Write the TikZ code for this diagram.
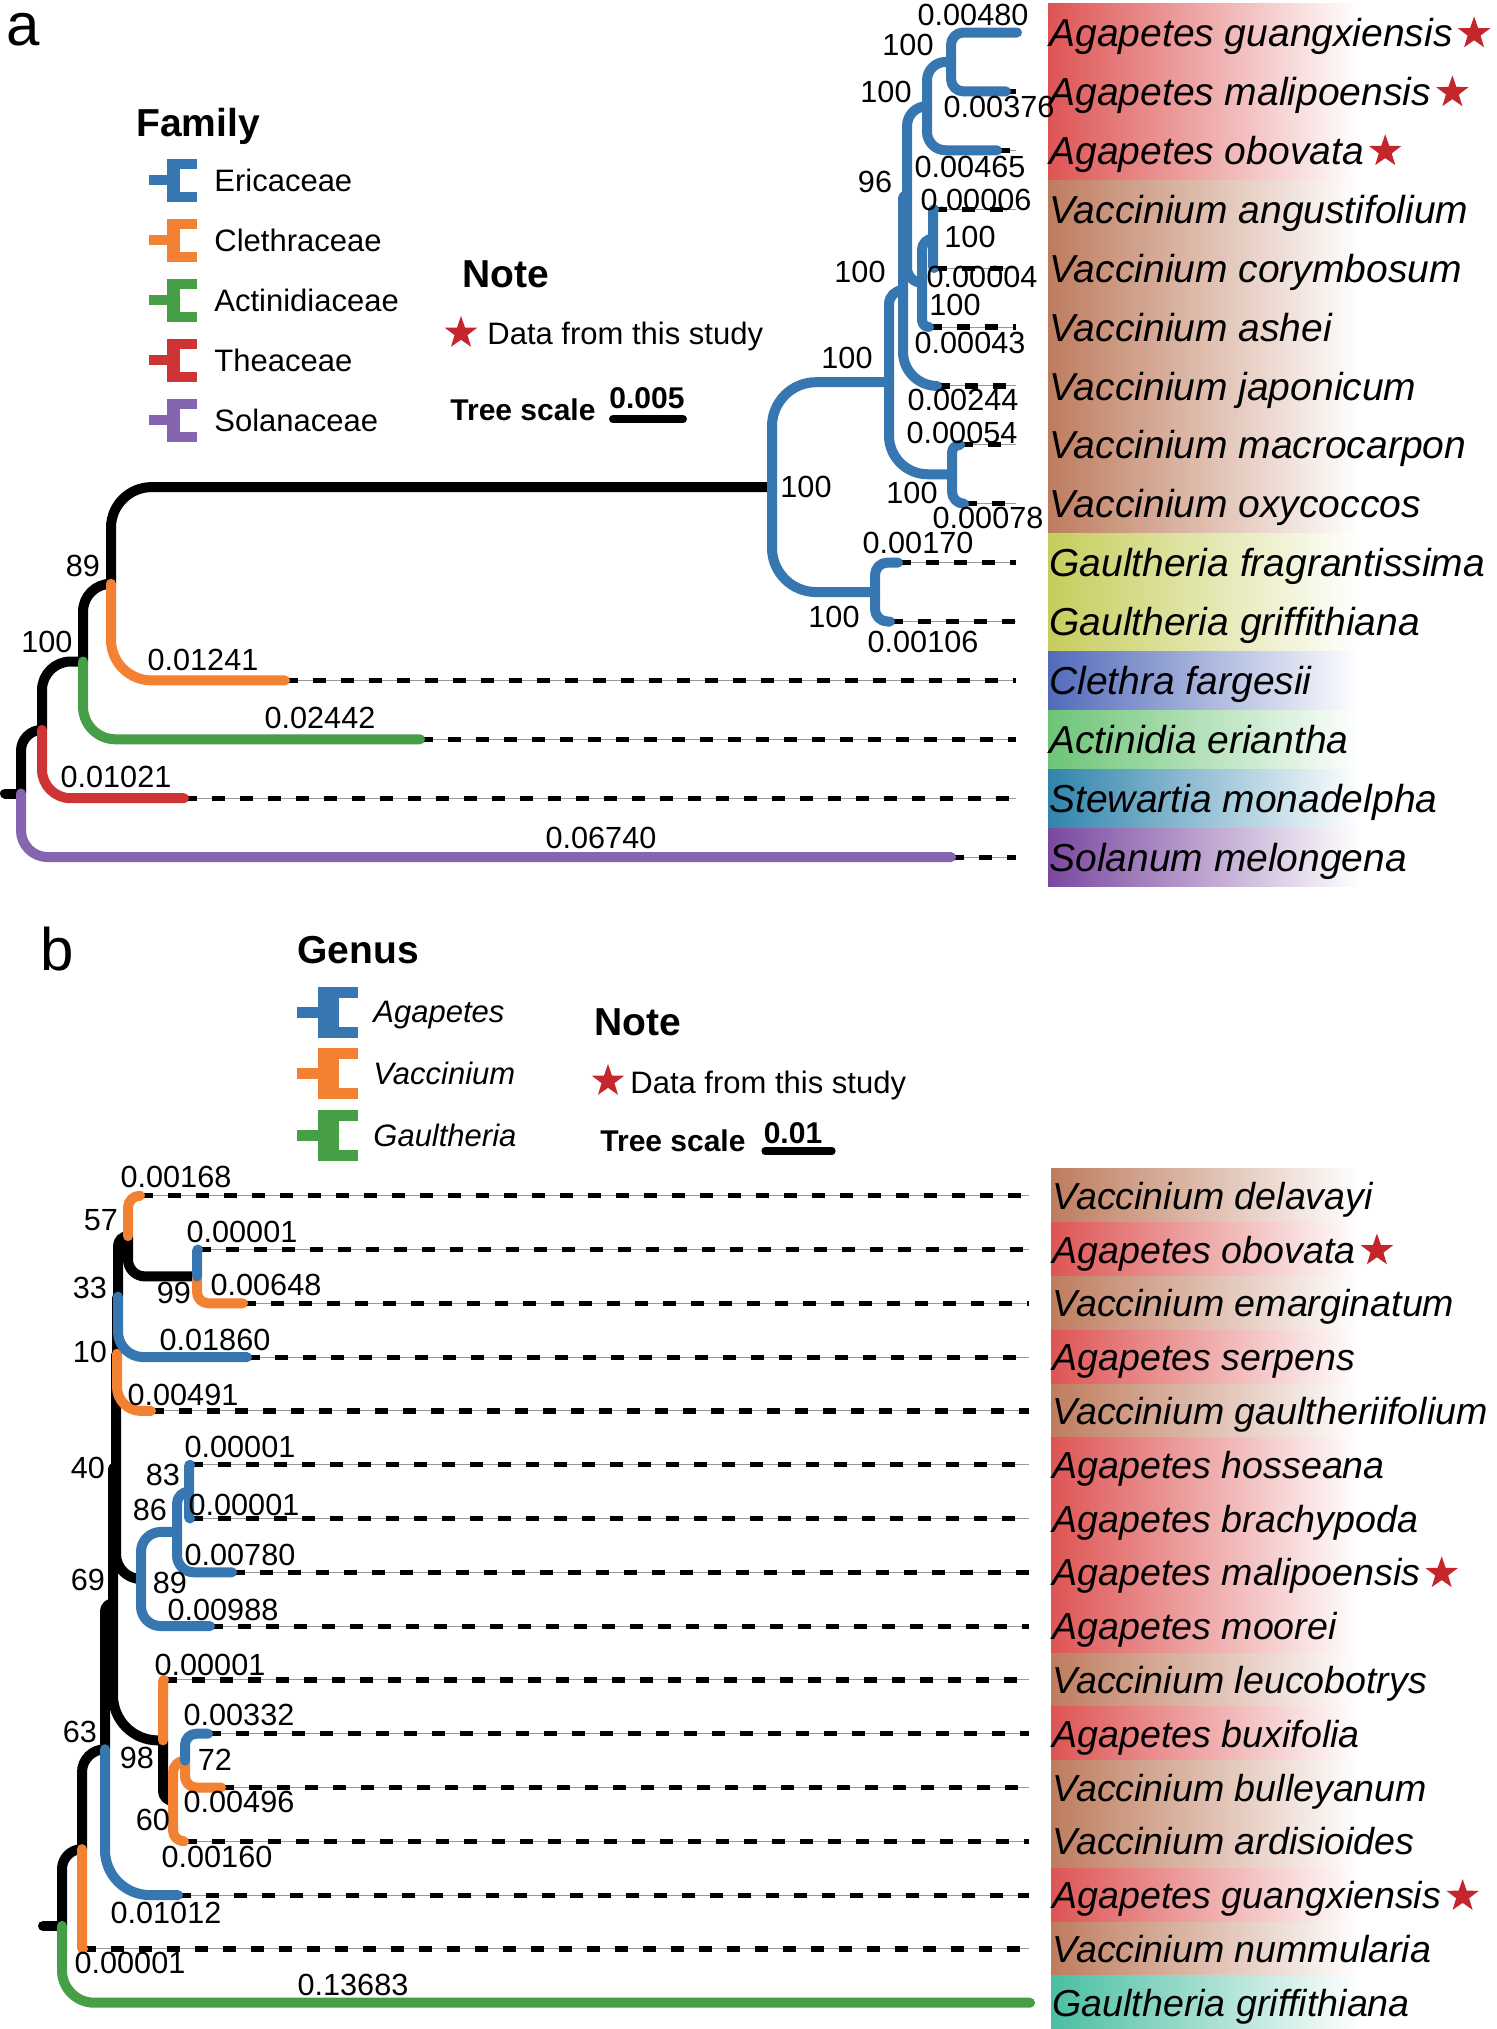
\documentclass[tikz,border=0pt]{standalone}
\usepackage{fontspec}
\setmainfont{Liberation Sans}
\usetikzlibrary{shapes.geometric}
\definecolor{cBlue}{RGB}{54,119,178}
\definecolor{cOrange}{RGB}{243,129,50}
\definecolor{cGreen}{RGB}{70,158,70}
\definecolor{cRed}{RGB}{206,52,54}
\definecolor{cPurple}{RGB}{133,101,176}
\definecolor{cStar}{RGB}{196,38,44}
\definecolor{bAga}{RGB}{222,84,84}
\definecolor{bVac}{RGB}{190,124,94}
\definecolor{bGau}{RGB}{198,205,92}
\definecolor{bCle}{RGB}{82,106,186}
\definecolor{bAct}{RGB}{108,196,118}
\definecolor{bSte}{RGB}{48,132,172}
\definecolor{bSol}{RGB}{122,72,160}
\definecolor{bTeal}{RGB}{74,190,162}
\newdimen\brdx \newdimen\brdy
\newcommand\branch[3]{%
 \pgfextractx{\brdx}{\pgfpointdiff{\pgfpointanchor{#2}{center}}{\pgfpointanchor{#3}{center}}}%
 \pgfextracty{\brdy}{\pgfpointdiff{\pgfpointanchor{#2}{center}}{\pgfpointanchor{#3}{center}}}%
 \pgfmathsetmacro\brr{max(0.05,min(abs(\brdx),0.42*abs(\brdy),22.5))}%
 \draw[tbr,#1,rounded corners=\brr pt] (#2) |- (#3);}
\newcommand\bandA[4]{\shade[left color=#1,right color=white] (#2,#3) rectangle (1360,#4);}
\newcommand\iconA[3]{\begin{scope}[shift={(#2,#3)}]
 \fill[#1] (0,-5) rectangle (19,5);
 \fill[#1] (18,-21.5) rectangle (31,21.5);
 \fill[#1] (18,-21.5) rectangle (48,-11.5);
 \fill[#1] (18,11.5) rectangle (48,21.5);
 \end{scope}}
\newcommand\iconB[3]{\begin{scope}[shift={(#2,#3)}]
 \fill[#1] (0,-5.5) rectangle (22,5.5);
 \fill[#1] (21,-25.5) rectangle (42,25.5);
 \fill[#1] (21,-25.5) rectangle (61,-14.5);
 \fill[#1] (21,14.5) rectangle (61,25.5);
 \end{scope}}
\tikzset{
 tbr/.style={line width=5pt,line cap=round,line join=round},
 grayl/.style={line width=0.5pt,gray!80},
 dsh/.style={line width=2.6pt,dash pattern=on 6.5pt off 7.5pt,black},
 txA/.style={anchor=west,inner sep=0pt,text depth=0pt,font=\fontsize{19.5}{22}\selectfont\itshape},
 txB/.style={anchor=west,inner sep=0pt,text depth=0pt,font=\fontsize{18.8}{22}\selectfont\itshape},
 numlab/.style={inner sep=0pt,text depth=0pt,font=\fontsize{15.3}{17}\selectfont},
 legtxt/.style={anchor=west,inner sep=0pt,text depth=0pt,font=\fontsize{15.5}{18}\selectfont},
 headtxt/.style={anchor=west,inner sep=0pt,text depth=0pt,font=\fontsize{19.5}{22}\selectfont\bfseries},
 boldtxt/.style={inner sep=0pt,text depth=0pt,font=\fontsize{15}{18}\selectfont\bfseries},
 pnl/.style={inner sep=0pt,text depth=0pt,font=\fontsize{30}{32}\selectfont},
 starN/.style={star,star points=5,star point ratio=2.5,fill=cStar,draw=none,minimum size=17pt,inner sep=0pt},
}
\begin{document}
\begin{tikzpicture}[x=0.5pt,y=-0.5pt]
\useasboundingbox (0,0) rectangle (1496,2029);
\fill[white] (0,0) rectangle (1496,2029);
% ---------------- panel a bands
\bandA{bAga}{1048}{3}{180}
\bandA{bVac}{1048}{180}{533}
\bandA{bGau}{1048}{533}{651}
\bandA{bCle}{1048}{651}{710}
\bandA{bAct}{1048}{710}{769}
\bandA{bSte}{1048}{769}{828}
\bandA{bSol}{1048}{828}{886}
% ---------------- panel b bands
\bandA{bVac}{1051}{1168.8}{1222.6}
\bandA{bAga}{1051}{1222.6}{1276.4}
\bandA{bVac}{1051}{1276.4}{1330.2}
\bandA{bAga}{1051}{1330.2}{1384.0}
\bandA{bVac}{1051}{1384.0}{1437.8}
\bandA{bAga}{1051}{1437.8}{1653.0}
\bandA{bVac}{1051}{1653.0}{1706.8}
\bandA{bAga}{1051}{1706.8}{1760.6}
\bandA{bVac}{1051}{1760.6}{1868.2}
\bandA{bAga}{1051}{1868.2}{1922.0}
\bandA{bVac}{1051}{1922.0}{1975.8}
\bandA{bTeal}{1051}{1975.8}{2029}
% ---------------- panel a coordinates
\coordinate (aEnd) at (1016,0);
\coordinate (aStub) at (5,793.5);
\coordinate (aR) at (21,793.5);
\coordinate (aN1) at (42,729.85);
\coordinate (aN2) at (83,661.5);
\coordinate (aN3) at (111,583.75);
\coordinate (aN4) at (772,487.1);
\coordinate (aN5) at (889,382.2);
\coordinate (aNG) at (875,592.05);
\coordinate (aNMO) at (952,474.25);
\coordinate (aN100) at (903,290.2);
\coordinate (aN96) at (907,194.5);
\coordinate (aNgmo) at (927,106.1);
\coordinate (aNgm) at (951,61.95);
\coordinate (aNaca) at (922,282.8);
\coordinate (aNac) at (933,238.65);
\coordinate (aT0) at (1017,32.5);
\coordinate (aT1) at (1006,91.4);
\coordinate (aT2) at (997,150.3);
\coordinate (aT3) at (934,209.2);
\coordinate (aT4) at (934,268.1);
\coordinate (aT5) at (929,327.0);
\coordinate (aT6) at (937,385.9);
\coordinate (aT7) at (960,444.8);
\coordinate (aT8) at (964,503.7);
\coordinate (aT9) at (898,562.6);
\coordinate (aT10) at (890,621.5);
\coordinate (aT11) at (285,680.4);
\coordinate (aT12) at (420,739.3);
\coordinate (aT13) at (184,798.2);
\coordinate (aT14) at (951,857.1);
% dashed guides panel a
\foreach \i in {1,...,14}{\draw[grayl] (aT\i) -- (aT\i -| aEnd);}
\foreach \i in {1,...,14}{\draw[dsh] (aT\i) -- (aT\i -| aEnd);}
% branches panel a
\draw[tbr] (aStub) -- (aR);
\branch{black}{aR}{aN1}
\branch{black}{aN1}{aN2}
\branch{black}{aN2}{aN3}
\branch{black}{aN3}{aN4}
\branch{cPurple}{aR}{aT14}
\branch{cRed}{aN1}{aT13}
\branch{cGreen}{aN2}{aT12}
\branch{cOrange}{aN3}{aT11}
\branch{cBlue}{aN4}{aN5}
\branch{cBlue}{aN4}{aNG}
\branch{cBlue}{aNG}{aT9}
\branch{cBlue}{aNG}{aT10}
\branch{cBlue}{aN5}{aN100}
\branch{cBlue}{aN5}{aNMO}
\branch{cBlue}{aNMO}{aT7}
\branch{cBlue}{aNMO}{aT8}
\branch{cBlue}{aN100}{aN96}
\branch{cBlue}{aN100}{aT6}
\branch{cBlue}{aN96}{aNgmo}
\branch{cBlue}{aN96}{aNaca}
\branch{cBlue}{aNgmo}{aNgm}
\branch{cBlue}{aNgmo}{aT2}
\branch{cBlue}{aNgm}{aT0}
\branch{cBlue}{aNgm}{aT1}
\branch{cBlue}{aNaca}{aNac}
\branch{cBlue}{aNaca}{aT5}
\branch{cBlue}{aNac}{aT3}
\branch{cBlue}{aNac}{aT4}
% labels panel a
\node[numlab] (aS1) at (908,45) {100};
\node[numlab] (aS2) at (886,92) {100};
\node[numlab] (aS3) at (875,182) {96};
\node[numlab] (aS4) at (970,237) {100};
\node[numlab] (aS5) at (860,272) {100};
\node[numlab] (aS6) at (955,305) {100};
\node[numlab] (aS7) at (847,358) {100};
\node[numlab] (aS8) at (806,487) {100};
\node[numlab] (aS9) at (912,493) {100};
\node[numlab] (aS10) at (834,617) {100};
\node[numlab] (aS11) at (83,566) {89};
\node[numlab] (aS12) at (47,642) {100};
\node[numlab] (aB1) at (973,15) {0.00480};
\node[numlab] (aB2) at (999,107) {0.00376};
\node[numlab] (aB3) at (970,167) {0.00465};
\node[numlab] (aB4) at (976,200) {0.00006};
\node[numlab] (aB5) at (982,277) {0.00004};
\node[numlab] (aB6) at (970,343) {0.00043};
\node[numlab] (aB7) at (963,400) {0.00244};
\node[numlab] (aB8) at (962,433) {0.00054};
\node[numlab] (aB9) at (988,518) {0.00078};
\node[numlab] (aB10) at (918,543) {0.00170};
\node[numlab] (aB11) at (923,642) {0.00106};
\node[numlab] (aB12) at (203,660) {0.01241};
\node[numlab] (aB13) at (320,718) {0.02442};
\node[numlab] (aB14) at (116,777) {0.01021};
\node[numlab] (aB15) at (601,838) {0.06740};
% taxa panel a
\node[txA] (aL0) at (1049,32.5) {Agapetes guangxiensis};
\node[txA] (aL1) at (1049,91.4) {Agapetes malipoensis};
\node[txA] (aL2) at (1049,150.3) {Agapetes obovata};
\node[txA] (aL3) at (1049,209.2) {Vaccinium angustifolium};
\node[txA] (aL4) at (1049,268.1) {Vaccinium corymbosum};
\node[txA] (aL5) at (1049,327.0) {Vaccinium ashei};
\node[txA] (aL6) at (1049,385.9) {Vaccinium japonicum};
\node[txA] (aL7) at (1049,444.8) {Vaccinium macrocarpon};
\node[txA] (aL8) at (1049,503.7) {Vaccinium oxycoccos};
\node[txA] (aL9) at (1049,562.6) {Gaultheria fragrantissima};
\node[txA] (aL10) at (1049,621.5) {Gaultheria griffithiana};
\node[txA] (aL11) at (1049,680.4) {Clethra fargesii};
\node[txA] (aL12) at (1049,739.3) {Actinidia eriantha};
\node[txA] (aL13) at (1049,798.2) {Stewartia monadelpha};
\node[txA] (aL14) at (1049,857.1) {Solanum melongena};
\node[starN] (aX0) at ([xshift=10.5pt,yshift=-0.5pt]aL0.east) {};
\node[starN] (aX1) at ([xshift=10.5pt,yshift=-0.5pt]aL1.east) {};
\node[starN] (aX2) at ([xshift=10.5pt,yshift=-0.5pt]aL2.east) {};
% legend panel a
\node[pnl] (pa) at (23,29) {a};
\node[headtxt] (famH) at (136,122) {Family};
\iconA{cBlue}{149}{180}
\iconA{cOrange}{149}{240}
\iconA{cGreen}{149}{300}
\iconA{cRed}{149}{360}
\iconA{cPurple}{149}{420}
\node[legtxt] (fam1) at (214,180) {Ericaceae};
\node[legtxt] (fam2) at (214,240) {Clethraceae};
\node[legtxt] (fam3) at (214,300) {Actinidiaceae};
\node[legtxt] (fam4) at (214,360) {Theaceae};
\node[legtxt] (fam5) at (214,420) {Solanaceae};
\node[headtxt] (noteA) at (462,274) {Note};
\node[starN] (noteAs) at (461,333) {};
\node[legtxt] (noteAt) at (487,333) {Data from this study};
\node[boldtxt,anchor=west] (tsA) at (450,410) {Tree scale};
\node[boldtxt] (tsAv) at (647,398) {0.005};
\draw[line width=4pt,line cap=round] (613,419) -- (683,419);
% ---------------- panel b coordinates
\coordinate (bEnd) at (1029,0);
\coordinate (bStub) at (43,1925.9);
\coordinate (bR) at (62,1925.9);
\coordinate (bP1) at (82,1849.1);
\coordinate (bP2) at (105,1749.25);
\coordinate (bN69) at (113,1603.4);
\coordinate (bN98) at (163,1740.4);
\coordinate (bN60) at (173,1800.95);
\coordinate (bN72) at (185,1760.6);
\coordinate (bN40) at (116,1466.4);
\coordinate (bN89) at (141,1579.0);
\coordinate (bN86) at (177,1531.95);
\coordinate (bN83) at (189,1491.6);
\coordinate (bN10) at (117,1353.75);
\coordinate (bN33) at (118,1296.6);
\coordinate (bN57) at (128,1236.05);
\coordinate (bN99) at (197,1276.4);
\coordinate (bT0) at (140,1195.7);
\coordinate (bT1) at (198,1249.5);
\coordinate (bT2) at (243,1303.3);
\coordinate (bT3) at (247,1357.1);
\coordinate (bT4) at (151,1410.9);
\coordinate (bT5) at (190,1464.7);
\coordinate (bT6) at (190,1518.5);
\coordinate (bT7) at (232,1572.3);
\coordinate (bT8) at (210,1626.1);
\coordinate (bT9) at (164,1679.9);
\coordinate (bT10) at (208,1733.7);
\coordinate (bT11) at (221,1787.5);
\coordinate (bT12) at (184,1841.3);
\coordinate (bT13) at (178,1895.1);
\coordinate (bT14) at (83,1948.9);
\coordinate (bT15) at (1030,2002.7);
\foreach \i in {0,...,14}{\draw[grayl] (bT\i) -- (bT\i -| bEnd);}
\foreach \i in {0,...,14}{\draw[dsh] (bT\i) -- (bT\i -| bEnd);}
\draw[tbr] (bStub) -- (bR);
\branch{black}{bR}{bP1}
\branch{black}{bP1}{bP2}
\branch{black}{bP2}{bN69}
\branch{black}{bN69}{bN40}
\branch{black}{bN69}{bN98}
\branch{black}{bN40}{bN10}
\branch{black}{bN40}{bN89}
\branch{black}{bN10}{bN33}
\branch{black}{bN33}{bN57}
\branch{black}{bN57}{bN99}
\branch{black}{bN98}{bN60}
\branch{cGreen}{bR}{bT15}
\branch{cOrange}{bP1}{bT14}
\branch{cOrange}{bN98}{bT9}
\branch{cOrange}{bN60}{bN72}
\branch{cOrange}{bN60}{bT12}
\branch{cOrange}{bN72}{bT11}
\branch{cOrange}{bN10}{bT4}
\branch{cOrange}{bN57}{bT0}
\branch{cOrange}{bN99}{bT2}
\branch{cBlue}{bP2}{bT13}
\branch{cBlue}{bN72}{bT10}
\branch{cBlue}{bN89}{bN86}
\branch{cBlue}{bN89}{bT8}
\branch{cBlue}{bN86}{bN83}
\branch{cBlue}{bN86}{bT7}
\branch{cBlue}{bN83}{bT5}
\branch{cBlue}{bN83}{bT6}
\branch{cBlue}{bN33}{bT3}
\branch{cBlue}{bN99}{bT1}
% labels panel b
\node[numlab] (bS1) at (101,1220) {57};
\node[numlab] (bS2) at (90,1288) {33};
\node[numlab] (bS3) at (174,1293) {99};
\node[numlab] (bS4) at (90,1352) {10};
\node[numlab] (bS5) at (88,1468) {40};
\node[numlab] (bS6) at (163,1475) {83};
\node[numlab] (bS7) at (150,1510) {86};
\node[numlab] (bS8) at (88,1580) {69};
\node[numlab] (bS9) at (170,1583) {89};
\node[numlab] (bS10) at (80,1732) {63};
\node[numlab] (bS11) at (137,1758) {98};
\node[numlab] (bS12) at (215,1760) {72};
\node[numlab] (bS13) at (153,1820) {60};
\node[numlab] (bB1) at (176,1177) {0.00168};
\node[numlab] (bB2) at (242,1232) {0.00001};
\node[numlab] (bB3) at (266,1285) {0.00648};
\node[numlab] (bB4) at (215,1340) {0.01860};
\node[numlab] (bB5) at (183,1395) {0.00491};
\node[numlab] (bB6) at (240,1447) {0.00001};
\node[numlab] (bB7) at (244,1505) {0.00001};
\node[numlab] (bB8) at (240,1555) {0.00780};
\node[numlab] (bB9) at (223,1610) {0.00988};
\node[numlab] (bB10) at (210,1665) {0.00001};
\node[numlab] (bB11) at (239,1715) {0.00332};
\node[numlab] (bB12) at (239,1802) {0.00496};
\node[numlab] (bB13) at (217,1857) {0.00160};
\node[numlab] (bB14) at (166,1913) {0.01012};
\node[numlab] (bB15) at (130,1963) {0.00001};
\node[numlab] (bB16) at (353,1985) {0.13683};
% taxa panel b
\node[txB] (bL0) at (1052,1195.7) {Vaccinium delavayi};
\node[txB] (bL1) at (1052,1249.5) {Agapetes obovata};
\node[txB] (bL2) at (1052,1303.3) {Vaccinium emarginatum};
\node[txB] (bL3) at (1052,1357.1) {Agapetes serpens};
\node[txB] (bL4) at (1052,1410.9) {Vaccinium gaultheriifolium};
\node[txB] (bL5) at (1052,1464.7) {Agapetes hosseana};
\node[txB] (bL6) at (1052,1518.5) {Agapetes brachypoda};
\node[txB] (bL7) at (1052,1572.3) {Agapetes malipoensis};
\node[txB] (bL8) at (1052,1626.1) {Agapetes moorei};
\node[txB] (bL9) at (1052,1679.9) {Vaccinium leucobotrys};
\node[txB] (bL10) at (1052,1733.7) {Agapetes buxifolia};
\node[txB] (bL11) at (1052,1787.5) {Vaccinium bulleyanum};
\node[txB] (bL12) at (1052,1841.3) {Vaccinium ardisioides};
\node[txB] (bL13) at (1052,1895.1) {Agapetes guangxiensis};
\node[txB] (bL14) at (1052,1948.9) {Vaccinium nummularia};
\node[txB] (bL15) at (1052,2002.7) {Gaultheria griffithiana};
\node[starN] (bX1) at ([xshift=10.5pt,yshift=-0.5pt]bL1.east) {};
\node[starN] (bX7) at ([xshift=10.5pt,yshift=-0.5pt]bL7.east) {};
\node[starN] (bX13) at ([xshift=10.5pt,yshift=-0.5pt]bL13.east) {};
% legend panel b
\node[pnl] (pb) at (57,949) {b};
\node[headtxt] (genH) at (297,950) {Genus};
\iconB{cBlue}{297}{1012}
\iconB{cOrange}{297}{1073}
\iconB{cGreen}{297}{1135}
\node[legtxt,font=\fontsize{15.5}{18}\selectfont\itshape] (gen1) at (373,1012) {Agapetes};
\node[legtxt,font=\fontsize{15.5}{18}\selectfont\itshape] (gen2) at (373,1073) {Vaccinium};
\node[legtxt,font=\fontsize{15.5}{18}\selectfont\itshape] (gen3) at (373,1135) {Gaultheria};
\node[headtxt] (noteB) at (594,1022) {Note};
\node[starN] (noteBs) at (608,1081) {};
\node[legtxt] (noteBt) at (630,1082) {Data from this study};
\node[boldtxt,anchor=west] (tsB) at (600,1141) {Tree scale};
\node[boldtxt] (tsBv) at (793,1133) {0.01};
\draw[line width=3.6pt,line cap=round] (765,1151) -- (832,1151);
\end{tikzpicture}
\end{document}
